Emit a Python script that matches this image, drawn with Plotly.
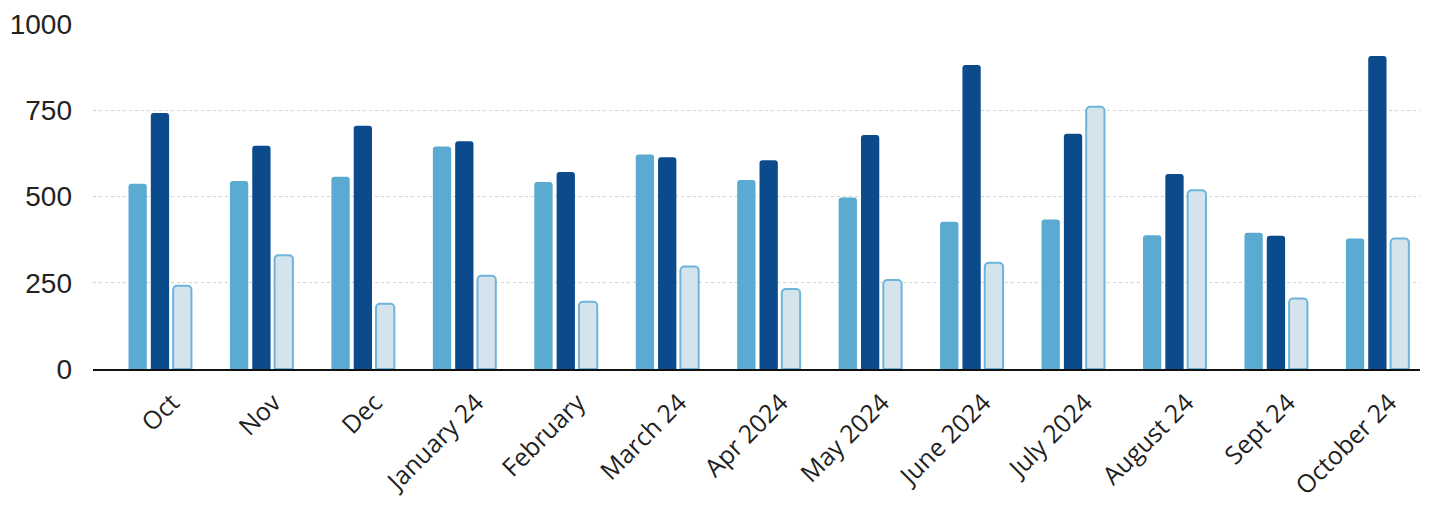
import plotly.graph_objects as go

months = ["Oct", "Nov", "Dec", "January 24", "February", "March 24", "Apr 2024",
          "May 2024", "June 2024", "July 2024", "August 24", "Sept 24", "October 24"]

series_a = [537, 545, 557, 645, 542, 622, 548, 497, 427, 433, 388, 395, 378]
series_b = [742, 647, 705, 660, 571, 614, 605, 678, 881, 682, 565, 386, 907]
series_c = [241, 330, 189, 270, 195, 297, 232, 258, 308, 760, 518, 204, 378]

y_ticks = [0, 250, 500, 750, 1000]

fig = go.Figure()
fig.add_trace(go.Bar(x=months, y=series_a, name="A",
                     marker=dict(color="#5aaad1", line=dict(width=0), cornerradius=3)))
fig.add_trace(go.Bar(x=months, y=series_b, name="B",
                     marker=dict(color="#0b4a8b", line=dict(width=0), cornerradius=3)))
fig.add_trace(go.Bar(x=months, y=series_c, name="C",
                     marker=dict(color="#d5e3ed", line=dict(color="#6db5da", width=2),
                                 cornerradius=4)))

fig.update_layout(
    width=1451, height=508,
    margin=dict(l=93, r=31, t=24, b=139),
    paper_bgcolor="white", plot_bgcolor="white",
    barmode="group", bargap=0.34, bargroupgap=0.18,
    showlegend=False,
    font=dict(family="Liberation Sans, Arial, sans-serif", color="#1a1a1a"),
)
fig.update_yaxes(
    range=[0, 1000], tickvals=y_ticks, ticktext=[str(v) for v in y_ticks],
    showgrid=True, gridcolor="#d4d4d4", gridwidth=1, griddash="dot",
    zeroline=False, showline=False, ticks="", automargin=False,
    tickfont=dict(size=28, family="Liberation Sans, Arial, sans-serif", color="#222222"),
    ticklabelstandoff=20,
)
fig.update_xaxes(
    range=[-0.66, 12.42], automargin=False,
    showline=True, linecolor="#111111", linewidth=2, ticks="",
    tickangle=-45, ticklabelshift=12, ticklabelstandoff=7,
    tickfont=dict(size=25, family="Open Sans, sans-serif", color="#1f1f1f"),
)

fig.write_html("out.html")
